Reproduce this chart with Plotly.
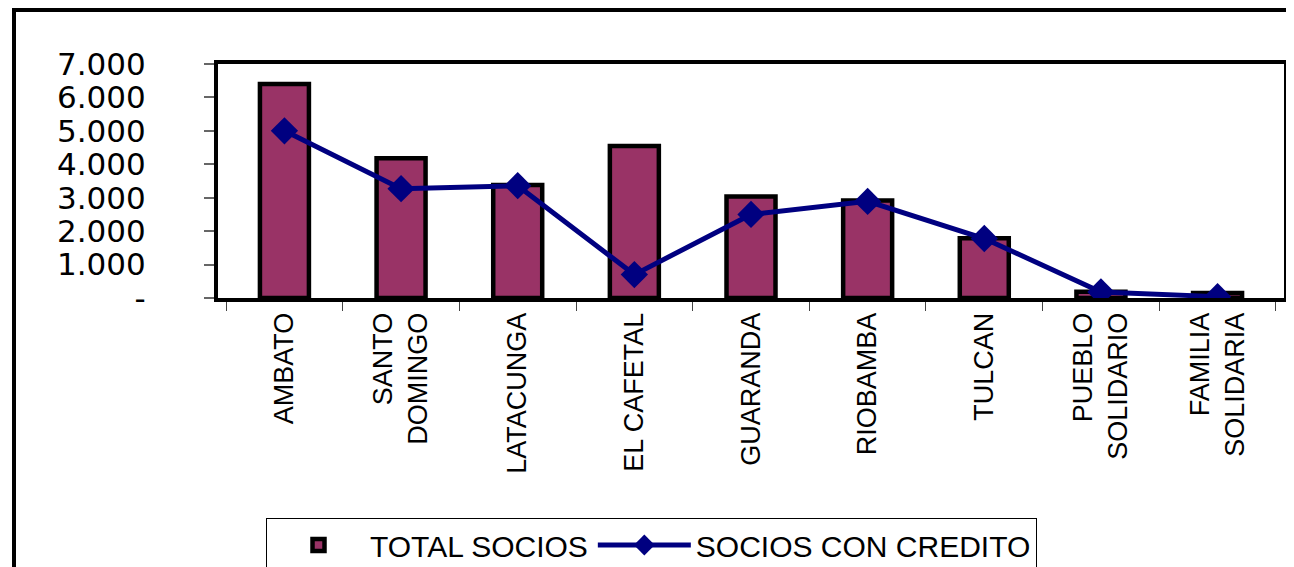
import plotly.graph_objects as go

categories = ["AMBATO", "SANTO<br>DOMINGO", "LATACUNGA", "EL CAFETAL", "GUARANDA",
              "RIOBAMBA", "TULCAN", "PUEBLO<br>SOLIDARIO", "FAMILIA<br>SOLIDARIA"]
total_socios = [6400, 4180, 3380, 4550, 3040, 2920, 1790, 190, 150]
socios_con_credito = [5000, 3270, 3360, 700, 2500, 2890, 1780, 180, 40]
y_tick_vals = [0, 1000, 2000, 3000, 4000, 5000, 6000, 7000]
y_tick_text = ["-", "1.000", "2.000", "3.000", "4.000", "5.000", "6.000", "7.000"]

FONT = "Liberation Sans, Arial, sans-serif"
YFONT = "DejaVu Sans, sans-serif"

fig = go.Figure()
fig.add_trace(go.Bar(
    x=categories, y=total_socios, name="TOTAL SOCIOS",
    marker=dict(color="#993366", line=dict(color="black", width=4.5)),
    width=0.42,
))
fig.add_trace(go.Scatter(
    x=categories, y=socios_con_credito, name="SOCIOS CON CREDITO",
    mode="lines+markers",
    line=dict(color="#000080", width=5),
    marker=dict(symbol="diamond", size=21, color="#000080"),
))

# page has an 8px body margin; figure coordinates = screen coordinates - 8
OFF = 8
W, H = 1294 - OFF, 567 - OFF
L = 218 - OFF
R = W - (1284 - OFF)
T = 64 - OFF
B = H - (298 - OFF)
pw = W - L - R
ph = H - T - B


def px_x(x):
    return (x - OFF - L) / pw


def px_y(y):
    return (H - B - (y - OFF)) / ph


fig.update_layout(
    width=W, height=H,
    margin=dict(l=L, r=R, t=T, b=B, autoexpand=False),
    plot_bgcolor="white", paper_bgcolor="white",
    font=dict(family=FONT, color="black"),
    showlegend=True,
    legend=dict(
        orientation="h",
        x=px_x(266), xanchor="left",
        y=px_y(518), yanchor="top",
        bordercolor="black", borderwidth=1,
        font=dict(size=30, family=FONT),
        bgcolor="white",
        itemwidth=93,
    ),
)
fig.update_xaxes(
    type="category", automargin=False,
    showline=True, linecolor="black", linewidth=4, mirror=True,
    ticks="outside", tickson="boundaries", ticklen=9, tickcolor="#444", tickwidth=1,
    tickangle=-90, tickfont=dict(size=27, family=FONT),
    showgrid=False,
)
fig.update_yaxes(
    range=[0, 7000], automargin=False,
    tickvals=y_tick_vals, ticktext=y_tick_text,
    showline=True, linecolor="black", linewidth=4, mirror=True,
    ticks="outside", ticklen=10, tickcolor="#666", tickwidth=2,
    tickfont=dict(size=31, family=YFONT),
    ticklabelstandoff=52,
    showgrid=False, zeroline=False,
)

# outer chart border
fig.add_shape(
    type="rect", xref="paper", yref="paper",
    x0=px_x(14), x1=px_x(1310),
    y0=px_y(620), y1=px_y(10),
    line=dict(color="black", width=4), fillcolor="rgba(0,0,0,0)", layer="below",
)

fig.write_html("out.html")
